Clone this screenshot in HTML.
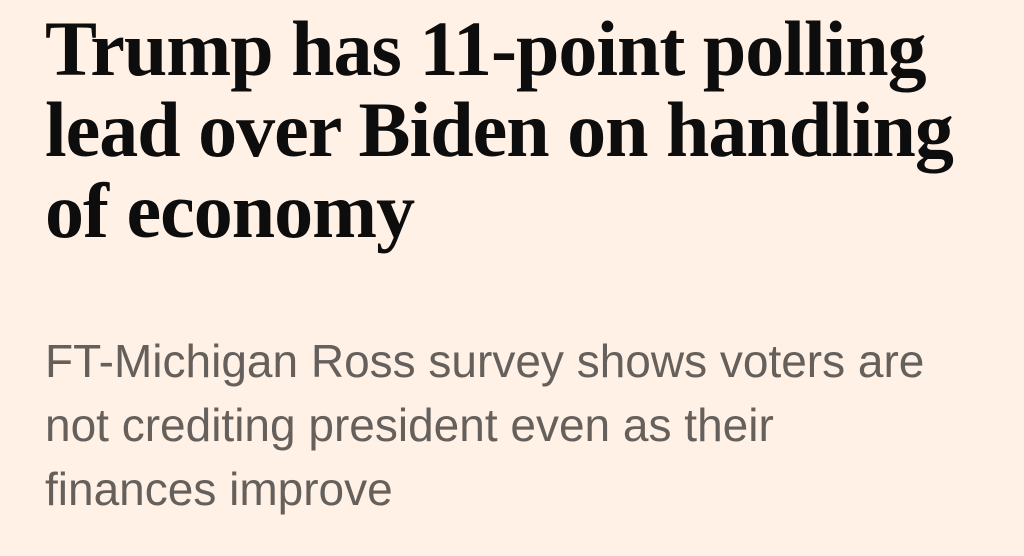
<!DOCTYPE html>
<html><head><meta charset="utf-8"><style>
html,body{margin:0;padding:0;}
body{width:1024px;height:556px;background:#fff1e5;overflow:hidden;position:relative;}
h1{position:absolute;left:45px;top:8px;margin:0;font-family:"Liberation Serif",serif;font-weight:bold;font-size:78px;line-height:81px;color:#0d0d0d;letter-spacing:-1px;width:1000px;white-space:nowrap;}
p{position:absolute;left:45px;top:329px;margin:0;font-family:"Liberation Sans",sans-serif;font-size:46px;line-height:64px;color:#66605c;width:1000px;white-space:nowrap;}
</style></head><body>
<h1>Trump has 11-point polling<br>lead over Biden on handling<br>of economy</h1>
<p>FT-Michigan Ross survey shows voters are<br>not crediting president even as their<br>finances improve</p>
</body></html>
